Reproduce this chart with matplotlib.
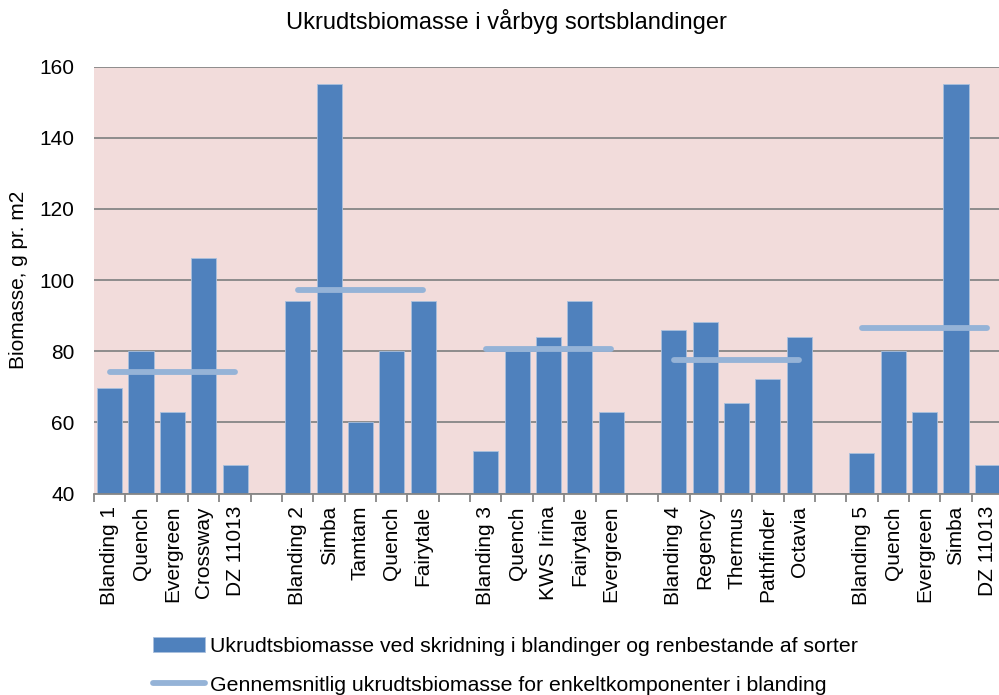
import numpy as np
import matplotlib
matplotlib.use("Agg")
import matplotlib.pyplot as plt

plt.rcParams['font.family'] = ['Liberation Sans', 'DejaVu Sans']

categories = ["Blanding 1", "Quench", "Evergreen", "Crossway", "DZ 11013", "",
              "Blanding 2", "Simba", "Tamtam", "Quench", "Fairytale", "",
              "Blanding 3", "Quench", "KWS Irina", "Fairytale", "Evergreen", "",
              "Blanding 4", "Regency", "Thermus", "Pathfinder", "Octavia", "",
              "Blanding 5", "Quench", "Evergreen", "Simba", "DZ 11013"]
biomass = [69.8, 80.0, 63.0, 106.2, 48.1, np.nan,
           94.0, 155.0, 60.2, 80.0, 94.2, np.nan,
           52.0, 80.0, 84.1, 94.2, 63.0, np.nan,
           86.0, 88.1, 65.4, 72.2, 83.9, np.nan,
           51.3, 80.0, 63.0, 155.0, 48.1]
group_means = [74.3, 97.3, 80.7, 77.5, 86.5]
group_size = 5

title = "Ukrudtsbiomasse i vårbyg sortsblandinger"
ylabel = "Biomasse, g pr. m2"
bar_label = "Ukrudtsbiomasse ved skridning i blandinger og renbestande af sorter"
line_label = "Gennemsnitlig ukrudtsbiomasse for enkeltkomponenter i blanding"

# line series: group mean repeated within each group, gaps between groups
mean_series = []
for g, m in enumerate(group_means):
    mean_series += [m] * group_size
    if g < len(group_means) - 1:
        mean_series.append(np.nan)

x = np.arange(len(categories))
bar_color = "#4F81BD"
line_color = "#95B3D7"

fig = plt.figure(figsize=(9.99, 6.95), dpi=100)
ax = fig.add_axes([94/999, 1-493.5/695, (1003-94)/999, (493.5-66.7)/695])
ax.set_facecolor("#F2DCDB")

ax.set_ylim(40, 160)
ax.set_xlim(-0.5, len(categories) - 0.5)
ax.set_yticks(np.arange(40, 161, 20))
ax.yaxis.grid(True, color="#868686", linewidth=1.3)
ax.set_axisbelow(True)

bars = ax.bar(x, np.array(biomass) - 40, bottom=40, width=0.8, color=bar_color,
              edgecolor="#A9C0DE", linewidth=0.6, label=bar_label, zorder=2)
ln, = ax.plot(x, mean_series, color=line_color, linewidth=4.2,
              solid_capstyle='round', label=line_label, zorder=3)

for s in ['top', 'right', 'left']:
    ax.spines[s].set_visible(False)
ax.spines['bottom'].set_color("#868686")
ax.spines['bottom'].set_linewidth(1.3)

ax.set_xticks(x)
ax.set_xticklabels(categories, rotation=90, fontsize=15)
ax.tick_params(axis='x', length=0, pad=9)
ax.set_xticks(np.arange(-0.5, len(categories), 1), minor=True)
ax.tick_params(axis='x', which='minor', length=6, color="#868686", width=1.3)
ax.tick_params(axis='y', length=0, labelsize=15, pad=14)

fig.text(19/999, 1-280/695, ylabel, rotation=90, ha='center', va='center', fontsize=15)
fig.text(506/999, 1-29.5/695, title, ha='center', va='baseline', fontsize=17)

leg = fig.legend(handles=[bars, ln], labels=[bar_label, line_label],
                 loc='upper left', bbox_to_anchor=(153/999, 1-637/695),
                 frameon=False, fontsize=15.3, handlelength=2.45,
                 handletextpad=0.25, labelspacing=0.92, borderpad=0,
                 borderaxespad=0)

fig.savefig("out.png", dpi=100)
